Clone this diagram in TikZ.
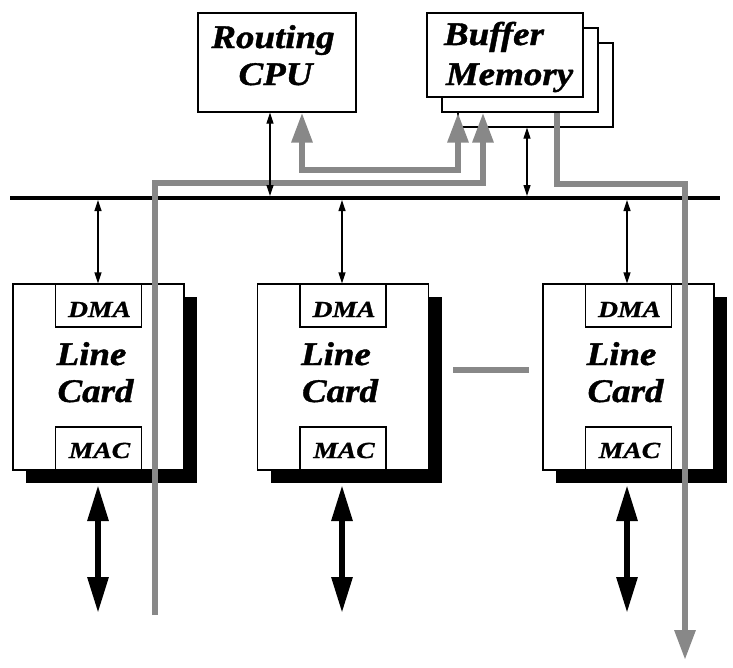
\documentclass[tikz,border=0pt]{standalone}
\usepackage{fontspec}
\setmainfont{Liberation Serif}
\newfontfamily\tbfont[FakeStretch=1.12,FakeBold=1.2]{Liberation Serif}
\newfontfamily\tsfont[FakeStretch=1.2,FakeBold=1]{Liberation Serif}
\usetikzlibrary{arrows.meta,calc}
\definecolor{pathgray}{RGB}{136,136,136}
\begin{document}
\begin{tikzpicture}[x=1pt,y=-1pt,
  box/.style={draw=black,line width=1.2pt,fill=white,inner sep=0pt},
  shadowbox/.style={fill=black,draw=none,inner sep=0pt},
  bigtxt/.style={font=\tbfont\bfseries\itshape\fontsize{33}{38}\selectfont,inner sep=0pt,anchor=base},
  smalltxt/.style={font=\tsfont\bfseries\itshape\fontsize{23}{27}\selectfont,inner sep=0pt,anchor=base},
  thinarrow/.style={line width=1.2pt,{Triangle[length=11pt,width=7pt]}-{Triangle[length=11pt,width=7pt]}},
  fatarrow/.style={line width=6pt,{Triangle[length=36pt,width=20pt]}-{Triangle[length=36pt,width=20pt]}},
  grayline/.style={draw=pathgray,line width=6pt},
  gend/.style={-{Triangle[length=30pt,width=20pt]}},
  gboth/.style={{Triangle[length=30pt,width=20pt]}-{Triangle[length=30pt,width=20pt]}},
  busline/.style={line width=4pt}
]
\useasboundingbox (0,0) rectangle (733,667);

% Routing CPU
\node[box,minimum width=158pt,minimum height=99pt] (cpu) at (277,62.5) {};
\node[bigtxt] (cpuT1) at (273,48) {Routing};
\node[bigtxt] (cpuT2) at (275.5,85) {CPU};

% Buffer memory stack
\node[box,minimum width=155pt,minimum height=84pt] (bm3) at (535.5,85) {};
\node[box,minimum width=156pt,minimum height=84pt] (bm2) at (520,70) {};
\node[box,minimum width=156pt,minimum height=84pt] (bm) at (505,55) {};
\node[bigtxt] (bmT1) at (494,45) {Buffer};
\node[bigtxt] (bmT2) at (509.5,85) {Memory};

% Line cards
\foreach \i/\cx in {1/98.5,2/343,3/628.5}{
  \node[shadowbox,minimum width=171pt,minimum height=186pt] (card\i s) at (\cx+13,390) {};
  \node[box,minimum width=171pt,minimum height=186pt] (card\i) at (\cx,377) {};
  \node[box,minimum width=86pt,minimum height=43pt] (dma\i) at (\cx,305.5) {};
  \node[box,minimum width=86pt,minimum height=43pt] (mac\i) at (\cx,448.5) {};
  \node[smalltxt] (dmaT\i) at (\cx+1,317) {DMA};
  \node[smalltxt] (macT\i) at (\cx+1,458) {MAC};
  \node[bigtxt] (lineT\i) at (\cx-7,365) {Line};
  \node[bigtxt] (cardT\i) at (\cx-3,402) {Card};
}

% bus
\coordinate (busL) at (10,198);
\coordinate (busR) at (720,198);
\draw[busline] (busL) -- (busR);

% gray data paths
\coordinate (gA0) at (155,615);
\coordinate (gA1) at (483,183);
\draw[grayline,gend] (gA0) |- (gA1) -- (bm2.south -| gA1);

\coordinate (gL1) at (302,170);
\coordinate (gL2) at (458,170);
\draw[grayline,gboth] (cpu.south -| gL1) -- (gL1) -- (gL2) -- (bm2.south -| gL2);

\coordinate (gB1) at (557,184);
\coordinate (gB2) at (685,660);
\draw[grayline,gend] (bm2.south -| gB1) -- (gB1) -| (gB2);

\coordinate (gS1) at (453,370);
\coordinate (gS2) at (529,370);
\draw[grayline] (gS1) -- (gS2);

% thin arrows to bus
\coordinate (bCpu) at (270,196);
\coordinate (bBm) at (527,196);
\draw[thinarrow] (cpu.south -| bCpu) -- (bCpu);
\draw[thinarrow] (bm3.south -| bBm) -- (bBm);
\foreach \i/\x in {1/98,2/342,3/627}{
  \coordinate (bc\i) at (\x,200);
  \draw[thinarrow] (bc\i) -- (dma\i.north -| bc\i);
  \coordinate (ioT\i) at (\x,485);
  \coordinate (ioB\i) at (\x,613);
  \draw[fatarrow] (ioT\i) -- (ioB\i);
}
\end{tikzpicture}
\end{document}
